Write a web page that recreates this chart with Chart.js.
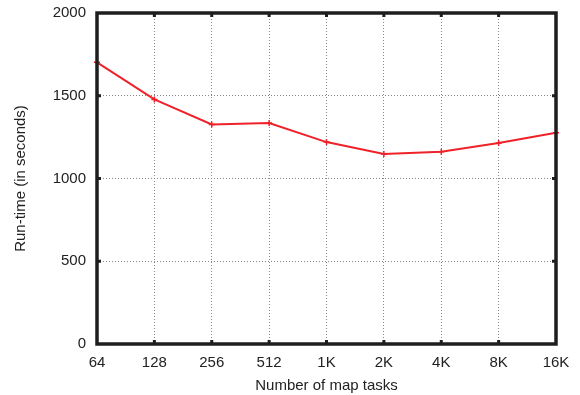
<!DOCTYPE html>
<html>
<head>
<meta charset="utf-8">
<script src="https://cdn.jsdelivr.net/npm/chart.js@4"></script>
<style>
  html, body { margin: 0; padding: 0; background: #fff; }
  #wrap { width: 580px; height: 395px; }
</style>
</head>
<body>
<div id="wrap"><canvas id="runChart" width="580" height="395"></canvas></div>
<script>
// tasks on the x axis, run time in seconds
const mapTasks = ['64', '128', '256', '512', '1K', '2K', '4K', '8K', '16K'];
const runTime = [1702, 1478, 1327, 1335, 1220, 1148, 1162, 1214, 1277];
const yTicks = [0, 500, 1000, 1500, 2000];

// thick frame + little inner tick marks, like gnuplot
const framePlugin = {
    id: 'frame',
    afterDraw(chart) {
        const ctx = chart.ctx;
        const a = chart.chartArea;
        const xs = chart.scales.x;
        const ys = chart.scales.y;
        ctx.save();
        ctx.fillStyle = '#1e1e1e';
        for (let i = 1; i < mapTasks.length - 1; i++) {
            const px = xs.getPixelForValue(i);
            ctx.fillRect(px - 1.5, a.bottom - 4, 3, 4);
            ctx.fillRect(px - 1.5, a.top, 3, 4);
        }
        yTicks.slice(1, -1).forEach(function (v) {
            const py = ys.getPixelForValue(v);
            ctx.fillRect(a.left, py - 1.5, 4, 3);
            ctx.fillRect(a.right - 4, py - 1.5, 4, 3);
        });
        ctx.strokeStyle = '#1e1e1e';
        ctx.lineWidth = 3.5;
        ctx.strokeRect(a.left, a.top, a.right - a.left, a.bottom - a.top);
        ctx.restore();
    }
};

const ctx = document.getElementById('runChart').getContext('2d');
const runChart = new Chart(ctx, {
    type: 'line',
    data: {
        labels: mapTasks,
        datasets: [{
            label: 'Run-time',
            data: runTime,
            borderColor: '#ee2228',
            borderWidth: 2,
            pointStyle: 'cross',
            pointRadius: 3,
            pointBorderColor: '#ee2228',
            pointBorderWidth: 1.5,
            fill: false,
            tension: 0
        }]
    },
    options: {
        responsive: false,
        animation: false,
        layout: { padding: { top: 13, right: 24, left: 0, bottom: 0 } },
        plugins: {
            legend: { display: false },
            tooltip: { enabled: false }
        },
        scales: {
            x: {
                offset: false,
                grid: { color: '#888', lineWidth: 1, drawTicks: false },
                border: { display: false, dash: [1, 2] },
                ticks: {
                    padding: 10,
                    color: '#222',
                    maxRotation: 0,
                    autoSkip: false,
                    font: { family: 'Liberation Sans', size: 15 }
                },
                title: {
                    display: true,
                    text: 'Number of map tasks',
                    color: '#222',
                    padding: { top: 4, bottom: 0 },
                    font: { family: 'Liberation Sans', size: 15 }
                },
                afterFit(scale) { scale.height = 51; }
            },
            y: {
                min: 0,
                max: 2000,
                afterBuildTicks(scale) {
                    scale.ticks = yTicks.map(v => ({ value: v }));
                },
                grid: { color: '#888', lineWidth: 1, drawTicks: false },
                border: { display: false, dash: [1, 2] },
                ticks: {
                    padding: 11,
                    color: '#222',
                    font: { family: 'Liberation Sans', size: 15 },
                    callback: v => String(v)
                },
                title: {
                    display: true,
                    text: 'Run-time (in seconds)',
                    color: '#222',
                    padding: { top: 12, bottom: 10 },
                    font: { family: 'Liberation Sans', size: 15 }
                },
                afterFit(scale) {
                    scale.width = 97;
                    scale.paddingTop = 0;
                    scale.paddingBottom = 0;
                }
            }
        }
    },
    plugins: [framePlugin]
});
</script>
</body>
</html>
